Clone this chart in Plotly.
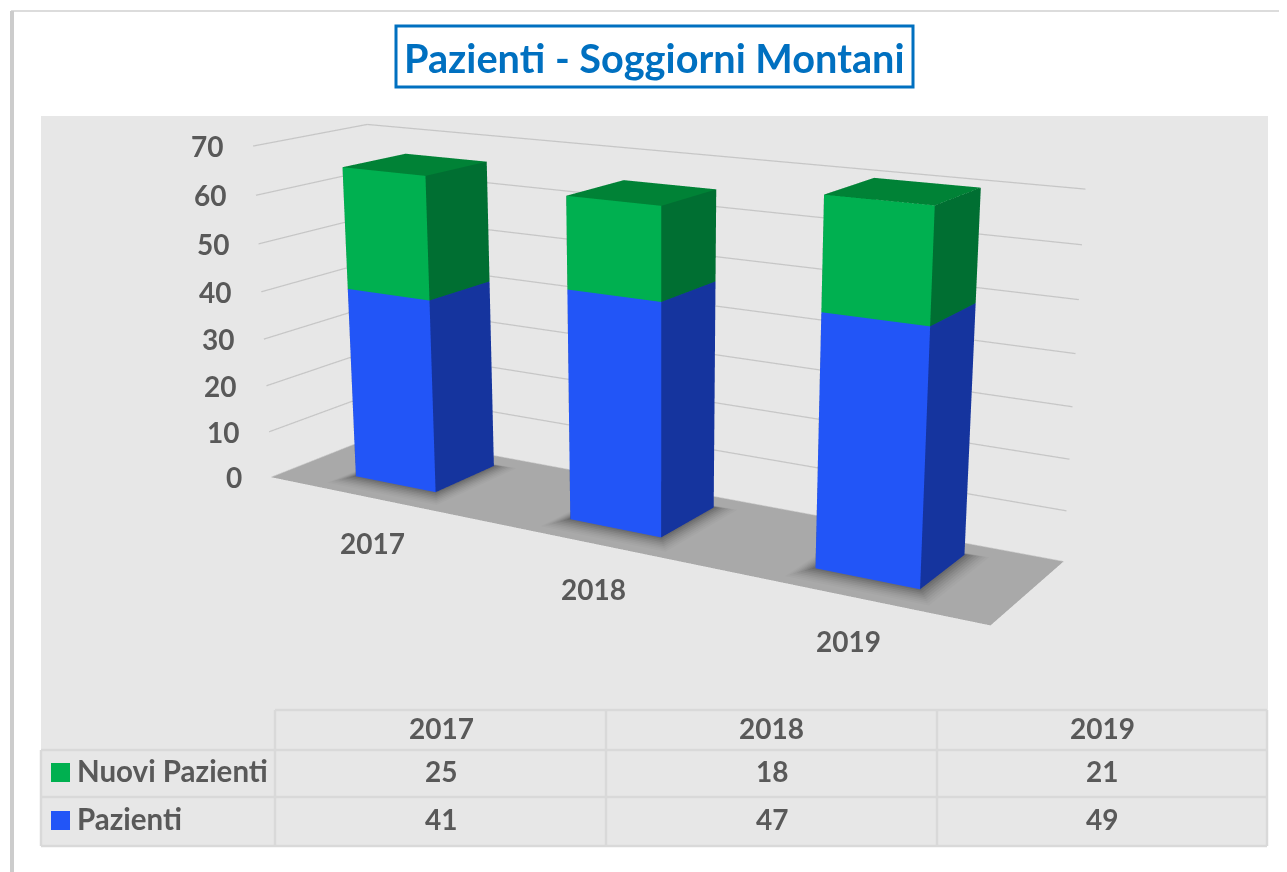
import plotly.graph_objects as go

years = ["2017", "2018", "2019"]
nuovi = [25, 18, 21]
pazienti = [41, 47, 49]
ticks = [0, 10, 20, 30, 40, 50, 60, 70]
TEXT = "#595959"
FONT = "Lato"
BAR_W, Y0, Y1 = 0.387, 0.212, 0.779
XMAX, ZMAX = 3, 70
# The 3D scene has a fixed 45 degree field of view; the reference was drawn with a much
# longer lens, so the figure is taller than the window and shifted up to centre the view.
FIG_W, FIG_H, TOP = 1300, 1657, -424
LIGHT = dict(ambient=1, diffuse=0, specular=0, fresnel=0, roughness=1)
fig = go.Figure()

def prism(x0, x1, y0, y1, z0, z1, front, side, top, name):
    xs = [x0, x1, x1, x0, x0, x1, x1, x0]
    ys = [y0, y0, y1, y1, y0, y0, y1, y1]
    zs = [z0, z0, z0, z0, z1, z1, z1, z1]
    i = [0, 0, 1, 1, 4, 4, 3, 3]
    j = [1, 5, 2, 6, 5, 6, 0, 4]
    k = [5, 4, 6, 5, 6, 7, 4, 7]
    fc = [front, front, side, side, top, top, side, side]
    fig.add_trace(go.Mesh3d(x=xs, y=ys, z=zs, i=i, j=j, k=k, facecolor=fc, flatshading=True,
                            lighting=LIGHT, hoverinfo="skip", name=name, showscale=False))

def flat(x0, x1, y0, y1, z, color):
    fig.add_trace(go.Mesh3d(x=[x0, x1, x1, x0], y=[y0, y0, y1, y1], z=[z] * 4, i=[0, 0], j=[1, 2], k=[2, 3],
                            facecolor=[color, color], flatshading=True, lighting=LIGHT,
                            hoverinfo="skip", showscale=False))

flat(0, XMAX, 0, 1, 0, "#a9a9a9")
for t in ticks:
    fig.add_trace(go.Scatter3d(x=[0, 0, XMAX], y=[0, 1, 1], z=[t, t, t], mode="lines",
                               line=dict(color="#c6c6c6", width=2.5), hoverinfo="skip"))
SHADOW = ["#a5a5a5", "#a0a0a0", "#9a9a9a", "#929292", "#8a8a8a", "#808080", "#767676", "#6c6c6c"]
for n, (a, b) in enumerate(zip(pazienti, nuovi)):
    c = n + 0.5
    x0, x1 = c - BAR_W / 2, c + BAR_W / 2
    for s, col in enumerate(SHADOW):
        g = (len(SHADOW) - s) / len(SHADOW)
        flat(x0 - 0.07 * g, x1 + 0.07 * g, Y0 - 0.13 * g, Y1 + 0.08 * g, 0.1 * (s + 1), col)
    prism(x0, x1, Y0, Y1, 0, a, "#2255f7", "#15349e", "#1b45c8", "Pazienti")
    prism(x0, x1, Y0, Y1, a, a + b, "#00b050", "#006f32", "#008236", "Nuovi Pazienti")

scene_ann = []
for t in ticks:
    scene_ann.append(dict(x=0, y=0, z=t, text=f"<b>{t}</b>", showarrow=False, xanchor="right", xshift=-28,
                          font=dict(family=FONT, size=28, color=TEXT)))
for n, y in enumerate(years):
    scene_ann.append(dict(x=n + 0.5, y=0, z=0, text=f"<b>{y}</b>", showarrow=False, yshift=-45,
                          font=dict(family=FONT, size=28, color=TEXT)))

LG = "#d9d9d9"
def line(x0, y0, x1, y1, color=LG, width=2.5):
    return dict(type="line", xref="x", yref="y", x0=x0, y0=y0, x1=x1, y1=y1, line=dict(color=color, width=width), layer="below")

shapes = [
    line(11, 11, 1300, 11, "#dcdcdc", 2), line(12, 11, 12, 880, "#cccccc", 4),
    dict(type="rect", xref="x", yref="y", x0=41, y0=116, x1=1268, y1=846, fillcolor="#e7e7e7", line=dict(width=0), layer="below"),
    dict(type="rect", xref="x", yref="y", x0=396, y0=26, x1=913, y1=87, fillcolor="white", line=dict(color="#0070c0", width=3), layer="below"),
    line(275, 710, 1267, 710), line(41, 750, 1267, 750), line(41, 797, 1267, 797), line(41, 846, 1267, 846),
    line(41, 750, 41, 846), line(275, 710, 275, 846), line(606, 710, 606, 846), line(937, 710, 937, 846), line(1267, 710, 1267, 846),
    dict(type="rect", xref="x", yref="y", x0=51, y0=763, x1=70, y1=782, fillcolor="#00b050", line=dict(width=0), layer="below"),
    dict(type="rect", xref="x", yref="y", x0=51, y0=811, x1=70, y1=830, fillcolor="#2255f7", line=dict(width=0), layer="below"),
]

ann = [dict(x=654.5, y=57, xref="x", yref="y", text="<b>Pazienti - Soggiorni Montani</b>", showarrow=False,
            font=dict(family=FONT, size=39.7, color="#0070c0"))]
cols = [441, 771.5, 1102]
def label(x, y, text, anchor="center", size=28):
    return dict(x=x, y=y, xref="x", yref="y", text=f"<b>{text}</b>", showarrow=False, xanchor=anchor,
                font=dict(family=FONT, size=size, color=TEXT))
for c, y, a, b in zip(cols, years, nuovi, pazienti):
    ann += [label(c, 727.5, y), label(c, 770.5, a), label(c, 818.5, b)]
ann += [label(75, 770.5, "Nuovi Pazienti", "left", 29.5), label(75, 818.5, "Pazienti", "left", 29.5)]

blank = dict(visible=False, showbackground=False, showgrid=False, zeroline=False, showspikes=False)
fig.update_layout(
    width=FIG_W, height=FIG_H, margin=dict(l=0, r=0, t=0, b=0), paper_bgcolor="white", plot_bgcolor="rgba(0,0,0,0)",
    showlegend=False, shapes=shapes, annotations=ann,
    xaxis=dict(range=[8, 8 + FIG_W], visible=False, fixedrange=True),
    yaxis=dict(range=[TOP + FIG_H, TOP], visible=False, fixedrange=True),
    scene=dict(
        domain=dict(x=[0, 1], y=[0, 1]), bgcolor="rgba(0,0,0,0)", aspectmode="manual",
        aspectratio=dict(x=1, y=0.226, z=0.435),
        xaxis=dict(range=[0, XMAX], **blank), yaxis=dict(range=[0, 1], **blank), zaxis=dict(range=[0, ZMAX], **blank),
        camera=dict(eye=dict(x=1.208, y=-1.998, z=0.591), center=dict(x=0.047, y=-0.043, z=-0.056),
                    up=dict(x=0.002, y=0.004, z=1), projection=dict(type="perspective")),
        annotations=scene_ann,
    ),
)
post = ("var g=document.getElementById('{plot_id}');g.style.marginTop='%dpx';"
        "document.documentElement.style.overflow='hidden';document.body.style.overflow='hidden';" % (TOP - 8))
fig.write_html("out.html", post_script=post)
